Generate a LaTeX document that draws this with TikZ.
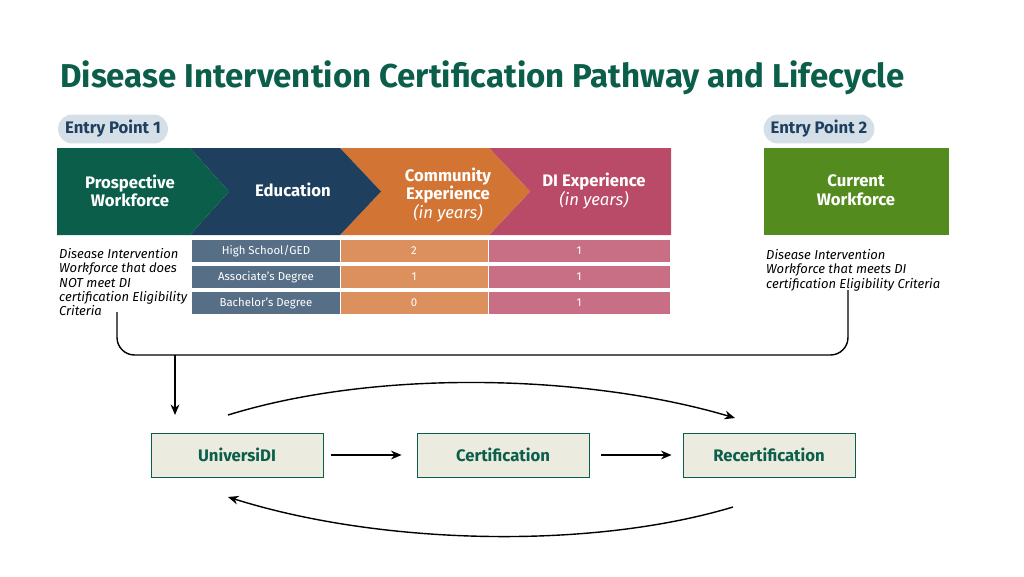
\documentclass[tikz,border=0pt]{standalone}
\usepackage{fontspec}
\setmainfont{Fira Sans}
\usetikzlibrary{calc,positioning,arrows.meta}
\definecolor{dgreen}{HTML}{0B5E4A}
\definecolor{navy}{HTML}{1E3F5E}
\definecolor{orng}{HTML}{D27434}
\definecolor{pink}{HTML}{BA4B68}
\definecolor{lgreen}{HTML}{548B1E}
\definecolor{pill}{HTML}{D5DFE7}
\definecolor{boxfill}{HTML}{EBEBDF}
\begin{document}
\begin{tikzpicture}
      [x=0.02cm, y=-0.02cm, >={Stealth[length=6pt,width=5pt]},
        line/.style={draw, thick, ->},
        pillnode/.style={fill=pill, rounded corners=8pt, text=navy, font=\bfseries\fontsize{9.5}{11}\selectfont,
          minimum height=15pt, inner xsep=4pt},
        head/.style={text=white, font=\bfseries\fontsize{9.5}{10.5}\selectfont, align=center},
        cell/.style={text=white, font=\fontsize{6.5}{8}\selectfont},
        note/.style={font=\itshape\fontsize{7.4}{8.2}\selectfont, align=left, anchor=north west},
        stage/.style={draw=dgreen, fill=boxfill, minimum width=98pt, minimum height=25pt,
          text=dgreen, font=\bfseries\fontsize{9.5}{11}\selectfont}
      ]
      \useasboundingbox (0,0) rectangle (1024,576);
      \node[anchor=west, text=dgreen, font=\bfseries\fontsize{18.8}{22}\selectfont] (title) at (54,78)
        {Disease Intervention Certification Pathway and Lifecycle};
      \node[pillnode] (entry1) at (113,129) {Entry Point 1};
      \node[pillnode] (entry2) at (819,129) {Entry Point 2};

      % chevron band
      \fill[pink] (489,148) -- (671,148) -- (671,235) -- (489,235) -- (530,191.5) -- cycle;
      \fill[orng] (340,148) -- (489,148) -- (530,191.5) -- (489,235) -- (340,235) -- (381,191.5) -- cycle;
      \fill[navy] (190,148) -- (340,148) -- (381,191.5) -- (340,235) -- (190,235) -- (229,191.5) -- cycle;
      \fill[dgreen] (57,148) -- (190,148) -- (229,191.5) -- (190,235) -- (57,235) -- cycle;
      \node[head] (prospective) at (130,191) {Prospective\\Workforce};
      \node[head] (education) at (293,190) {Education};
      \node[head] (community) at (448,195) {Community\\Experience\\{\mdseries\itshape (in years)}};
      \node[head] (diexp) at (594,191) {DI Experience\\{\mdseries\itshape (in years)}};
      \fill[lgreen] (764,148) rectangle (949,235);
      \node[head] (current) at (856,190) {Current\\Workforce};

      % table
      \foreach \row/\edu/\comm [count=\i] in {251/High School\slash GED/2, 277/Associate’s Degree/1, 303/Bachelor’s Degree/0} {
        \fill[navy!75] (192,\row-11) rectangle (340,\row+11);
        \fill[orng!80] (341,\row-11) rectangle (488,\row+11);
        \fill[pink!80] (489,\row-11) rectangle (670,\row+11);
        \node[cell] (edu\i) at (266,\row) {\edu};
        \node[cell] (comm\i) at (414,\row) {\comm};
        \node[cell] (di\i) at (579,\row) {1};
      }
      \node[note] (note1) at (53,242) {Disease Intervention\\Workforce that does\\NOT meet DI\\certification Eligibility\\Criteria};
      \node[note] (note2) at (760,243) {Disease Intervention\\Workforce that meets DI\\certification Eligibility Criteria};

      % lifecycle
      \node[stage] (universidi) at (237,455) {UniversiDI};
      \node[stage] (certification) at (503,455) {Certification};
      \node[stage] (recert) at (769,455) {Recertification};
      \coordinate (joinL) at (117,312);
      \coordinate (joinR) at (848,290);
      \coordinate (topA) at (228,415);
      \coordinate (topB) at (735,418);
      \coordinate (botA) at (733,507);
      \coordinate (botB) at (228,497);
      \draw[thick, rounded corners=10pt] (joinL) -- (117,355) -- (848,355) -- (joinR);
      \draw[line] (175,355) -- (175,415);
      \draw[line] ($(universidi.east)+(8,0)$) -- ($(certification.west)+(-15,0)$);
      \draw[line] ($(certification.east)+(12,0)$) -- ($(recert.west)+(-11,0)$);
      \draw[line] (topA) .. controls (380,368) and (590,375) .. (topB);
      \draw[line] (botA) .. controls (590,550) and (380,545) .. (botB);
    \end{tikzpicture}
\end{document}
